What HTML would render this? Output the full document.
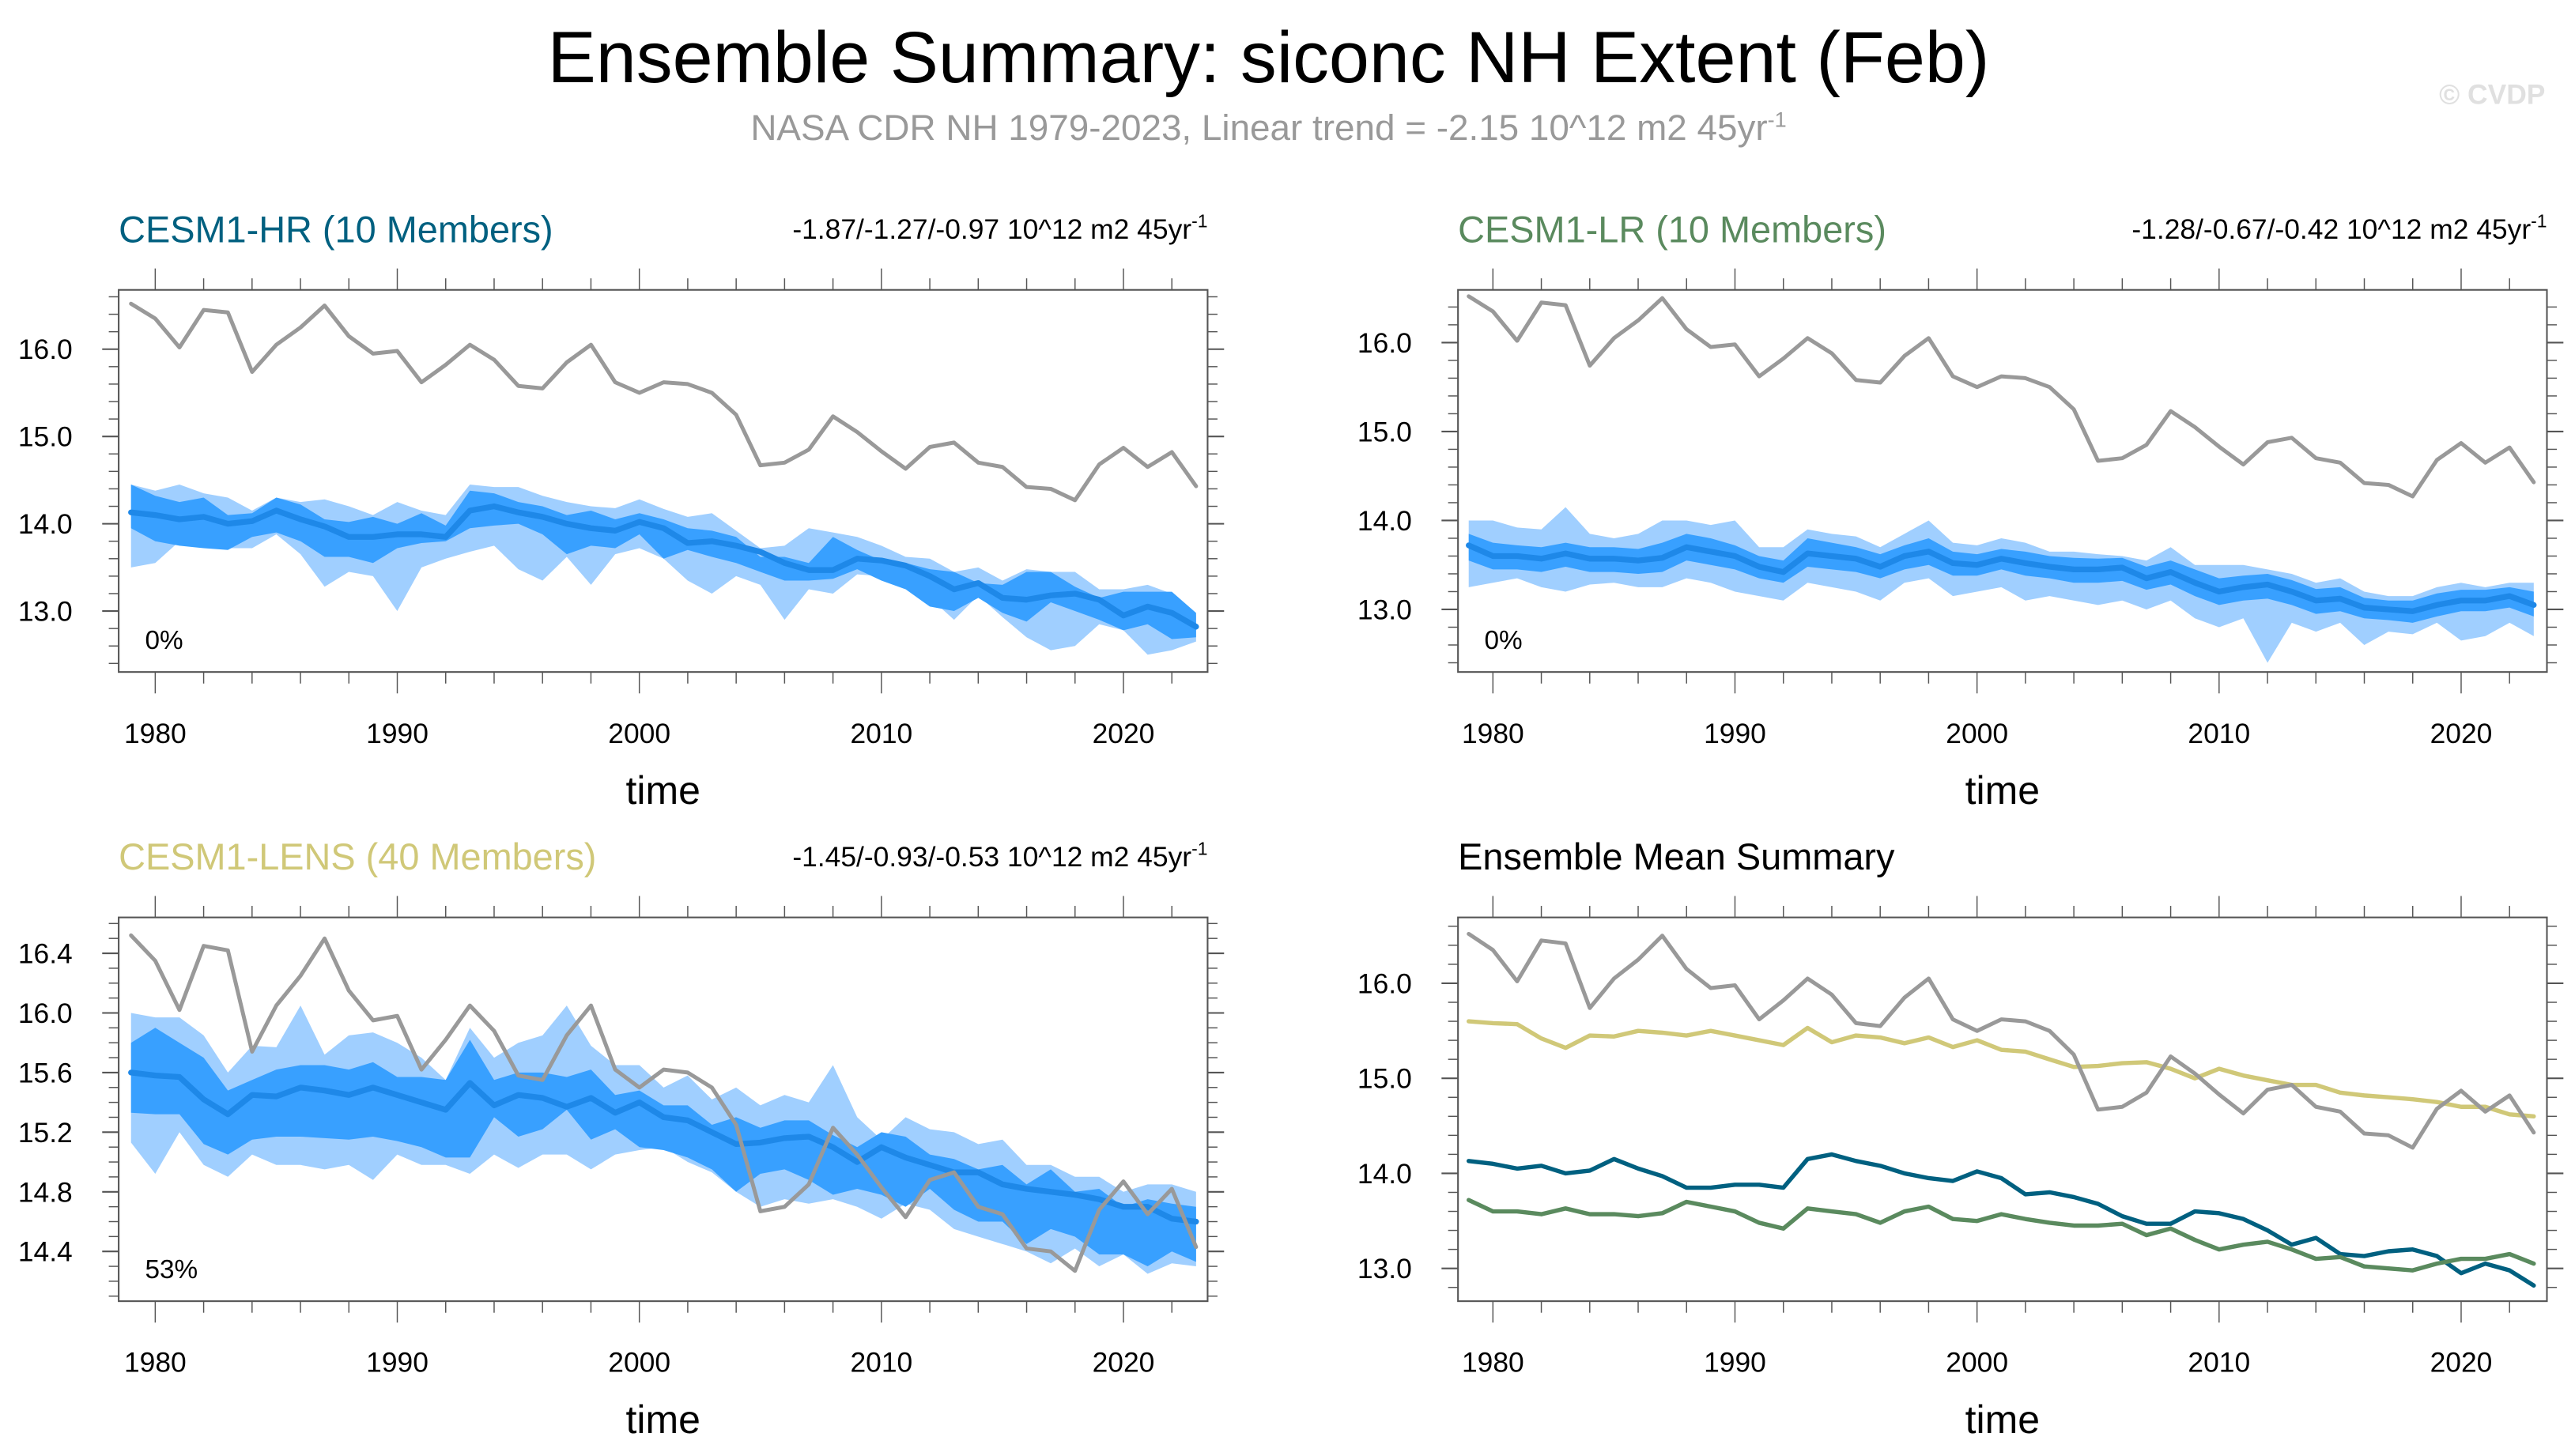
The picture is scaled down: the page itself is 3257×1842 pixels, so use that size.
<!DOCTYPE html>
<html><head><meta charset="utf-8"><style>
html,body{margin:0;padding:0;background:#fff;}
svg{display:block;font-family:"Liberation Sans",sans-serif;}
</style></head><body>
<svg id="fig" width="3257" height="1842" viewBox="0 0 1563 884" xmlns="http://www.w3.org/2000/svg">
<text x="770" y="50" font-size="44" text-anchor="middle" fill="#000">Ensemble Summary: siconc NH Extent (Feb)</text>
<text x="770" y="85" font-size="22" text-anchor="middle" fill="#999">NASA CDR NH 1979-2023, Linear trend = -2.15 10^12 m2 45yr<tspan dy="-8" font-size="13">-1</tspan></text>
<text x="1545" y="63" font-size="17" text-anchor="end" fill="#e0e0e0" font-weight="bold">© CVDP</text>
<g id="plots"></g>
</svg>
<script>
const years = []; for (let y = 1979; y <= 2023; y++) years.push(y);
const obs = [16.52,16.35,16.02,16.45,16.42,15.74,16.05,16.25,16.50,16.15,15.95,15.98,15.62,15.82,16.05,15.88,15.58,15.55,15.85,16.05,15.62,15.50,15.62,15.60,15.50,15.25,14.67,14.70,14.85,15.23,15.05,14.83,14.63,14.88,14.93,14.70,14.65,14.42,14.40,14.27,14.68,14.87,14.65,14.82,14.43];
const hrMean = [14.13,14.10,14.05,14.08,14.00,14.03,14.15,14.05,13.97,13.85,13.85,13.88,13.88,13.85,14.15,14.20,14.13,14.08,14.00,13.95,13.92,14.02,13.95,13.78,13.80,13.75,13.68,13.55,13.47,13.47,13.60,13.58,13.52,13.40,13.25,13.32,13.15,13.13,13.18,13.20,13.13,12.95,13.05,12.98,12.82];
const hrMax = [14.45,14.38,14.45,14.35,14.30,14.15,14.30,14.25,14.28,14.20,14.10,14.25,14.15,14.10,14.45,14.42,14.42,14.32,14.25,14.20,14.18,14.28,14.17,14.08,14.12,13.92,13.72,13.75,13.95,13.90,13.85,13.75,13.62,13.60,13.45,13.50,13.35,13.48,13.45,13.45,13.25,13.25,13.30,13.20,12.95];
const hrHi = [14.45,14.32,14.25,14.30,14.10,14.12,14.30,14.22,14.05,14.02,14.08,14.00,14.12,13.98,14.38,14.35,14.25,14.20,14.10,14.15,14.05,14.12,14.05,13.95,13.92,13.85,13.62,13.62,13.55,13.85,13.70,13.58,13.55,13.48,13.45,13.32,13.30,13.45,13.45,13.28,13.15,13.22,13.22,13.22,12.98];
const hrLo = [13.95,13.80,13.75,13.72,13.70,13.85,13.90,13.80,13.62,13.62,13.55,13.72,13.78,13.80,13.95,13.98,14.00,13.88,13.65,13.75,13.72,13.88,13.60,13.70,13.62,13.55,13.45,13.35,13.35,13.37,13.48,13.35,13.25,13.05,13.00,13.15,12.98,12.88,13.10,13.00,12.90,12.78,12.85,12.68,12.70];
const hrMin = [13.50,13.55,13.80,13.75,13.72,13.72,13.88,13.65,13.28,13.45,13.40,13.00,13.50,13.60,13.68,13.75,13.48,13.35,13.62,13.30,13.65,13.72,13.60,13.35,13.20,13.40,13.30,12.90,13.25,13.20,13.42,13.40,13.37,13.15,12.90,13.18,12.93,12.70,12.55,12.60,12.85,12.78,12.50,12.55,12.65];
const lrMean = [13.72,13.60,13.60,13.57,13.63,13.57,13.57,13.55,13.58,13.70,13.65,13.60,13.48,13.42,13.63,13.60,13.57,13.48,13.60,13.65,13.52,13.50,13.57,13.52,13.48,13.45,13.45,13.47,13.35,13.42,13.30,13.20,13.25,13.28,13.20,13.10,13.12,13.02,13.00,12.98,13.05,13.10,13.10,13.15,13.05];
const lrMax = [14.00,14.00,13.92,13.90,14.15,13.85,13.80,13.85,14.00,14.00,13.95,14.00,13.70,13.70,13.90,13.85,13.82,13.70,13.85,14.00,13.75,13.72,13.80,13.75,13.65,13.65,13.62,13.60,13.55,13.70,13.50,13.50,13.50,13.45,13.40,13.30,13.35,13.20,13.15,13.15,13.25,13.30,13.25,13.30,13.30];
const lrHi = [13.85,13.75,13.72,13.70,13.75,13.70,13.70,13.68,13.75,13.85,13.80,13.72,13.60,13.55,13.80,13.75,13.70,13.62,13.72,13.80,13.65,13.62,13.68,13.65,13.60,13.58,13.57,13.58,13.48,13.55,13.45,13.35,13.38,13.40,13.33,13.23,13.25,13.13,13.10,13.10,13.18,13.22,13.22,13.25,13.20];
const lrLo = [13.55,13.45,13.45,13.42,13.48,13.42,13.42,13.40,13.42,13.55,13.50,13.45,13.35,13.30,13.48,13.45,13.42,13.35,13.45,13.50,13.38,13.38,13.45,13.38,13.35,13.30,13.30,13.32,13.22,13.28,13.15,13.05,13.10,13.12,13.05,12.95,12.98,12.90,12.88,12.85,12.92,12.98,12.98,13.02,12.92];
const lrMin = [13.25,13.30,13.35,13.25,13.20,13.28,13.30,13.25,13.25,13.35,13.30,13.20,13.15,13.10,13.30,13.25,13.20,13.10,13.30,13.35,13.15,13.20,13.25,13.10,13.15,13.10,13.05,13.10,13.00,13.10,12.90,12.80,12.90,12.40,12.85,12.75,12.85,12.60,12.75,12.72,12.85,12.65,12.70,12.85,12.70];
const lensMean = [15.60,15.58,15.57,15.42,15.32,15.45,15.44,15.50,15.48,15.45,15.50,15.45,15.40,15.35,15.53,15.38,15.45,15.43,15.37,15.43,15.33,15.40,15.30,15.28,15.20,15.12,15.13,15.16,15.17,15.10,15.00,15.10,15.03,14.98,14.93,14.93,14.85,14.82,14.80,14.78,14.75,14.70,14.70,14.62,14.60];
const lensMax = [16.00,15.97,15.97,15.85,15.60,15.78,15.77,16.05,15.72,15.85,15.87,15.80,15.70,15.55,15.90,15.70,15.80,15.85,16.05,15.78,15.65,15.65,15.50,15.58,15.42,15.50,15.38,15.45,15.40,15.65,15.30,15.15,15.30,15.22,15.20,15.12,15.15,14.98,14.98,14.90,14.90,14.80,14.85,14.85,14.80];
const lensHi = [15.80,15.90,15.80,15.70,15.48,15.55,15.62,15.65,15.65,15.62,15.67,15.57,15.57,15.55,15.82,15.55,15.60,15.60,15.57,15.62,15.45,15.48,15.38,15.38,15.25,15.30,15.23,15.28,15.28,15.18,15.10,15.20,15.17,15.05,15.02,14.95,14.98,14.85,14.95,14.80,14.82,14.70,14.75,14.72,14.70];
const lensLo = [15.33,15.32,15.32,15.12,15.05,15.15,15.17,15.17,15.16,15.15,15.17,15.14,15.10,15.03,15.03,15.30,15.17,15.22,15.35,15.15,15.22,15.10,15.08,15.03,14.95,14.80,14.92,14.95,14.88,14.78,14.82,14.78,14.70,14.82,14.68,14.60,14.60,14.45,14.55,14.50,14.38,14.38,14.30,14.40,14.33];
const lensMin = [15.13,14.92,15.20,14.98,14.90,15.05,14.98,14.98,14.95,14.98,14.88,15.05,14.98,14.98,14.92,15.05,14.96,15.05,15.05,14.95,15.05,15.08,15.10,15.00,14.93,14.80,14.70,14.75,14.72,14.75,14.70,14.62,14.72,14.68,14.55,14.50,14.45,14.40,14.32,14.42,14.30,14.38,14.25,14.32,14.30];

const NS = 'http://www.w3.org/2000/svg';
const root = document.getElementById('plots');
function mk(tag, attrs, parent) {
  const e = document.createElementNS(NS, tag);
  for (const k in attrs) e.setAttribute(k, attrs[k]);
  (parent || root).appendChild(e);
  return e;
}
function panel(p) {
  const g = mk('g', {});
  
  
  const xs = yr => p.x0 + (yr - 1979) / 44 * (p.x1 - p.x0);
  const ys = v => p.yRef + (p.vRef - v) * p.ppu;
  const fr = mk('rect', {x: p.L, y: p.T, width: p.R - p.L, height: p.B - p.T, fill: 'none', stroke: '#555', 'stroke-width': 1}, g);
  
  
  for (let yr = 1980; yr <= 2022; yr += 2) {
    const x = xs(yr), maj = yr % 10 === 0, len = maj ? 13 : 7;
    mk('line', {x1: x, x2: x, y1: p.B, y2: p.B + len, stroke: '#555', 'stroke-width': 0.7}, g);
    mk('line', {x1: x, x2: x, y1: p.T, y2: p.T - len, stroke: '#555', 'stroke-width': 0.7}, g);
    if (maj) {
      const t = mk('text', {x: x, y: p.B + 43, 'font-size': 17, 'text-anchor': 'middle'}, g);
      t.textContent = yr;
      
      
    }
  }
  for (let i = -40; i <= 40; i++) {
    const v = p.vRef + i * p.minor;
    const y = ys(v);
    if (y < p.T + 2 || y > p.B - 2) continue;
    const maj = Math.abs(Math.round(i * p.minor / p.major * 1000) / 1000 % 1) < 1e-6;
    const len = maj ? 10 : 6;
    mk('line', {x1: p.L, x2: p.L - len, y1: y, y2: y, stroke: '#555', 'stroke-width': maj ? 1 : 0.7}, g);
    mk('line', {x1: p.R, x2: p.R + len, y1: y, y2: y, stroke: '#555', 'stroke-width': maj ? 1 : 0.7}, g);
    if (maj) {
      const t = mk('text', {x: p.L - 28, y: y + 6, 'font-size': 17, 'text-anchor': 'end'}, g);
      t.textContent = v.toFixed(1);
      
      
    }
  }
  const t1 = mk('text', {x: (p.L + p.R) / 2, y: p.B + 80, 'font-size': 24, 'text-anchor': 'middle'}, g);
  t1.textContent = 'time';
  
  
  const t2 = mk('text', {x: p.L, y: p.T - 29, 'font-size': 22.5, fill: p.titleColor}, g);
  t2.textContent = p.title;
  
  
  if (p.trend) {
    const t3 = mk('text', {x: p.R, y: p.T - 31, 'font-size': 17, 'text-anchor': 'end'}, g);
    t3.innerHTML = p.trend + ' 10^12 m2 45yr<tspan dy="-7" font-size="11">-1</tspan>';
    
    
  }
  if (p.pct) {
    const t4 = mk('text', {x: p.L + 16, y: p.B - 14, 'font-size': 16}, g);
    t4.textContent = p.pct;
    
    
  }
  const band = (up, lo, col, nm) => {
    let d = up.map((v, i) => (i ? 'L' : 'M') + xs(years[i]).toFixed(1) + ',' + ys(v).toFixed(1)).join('');
    for (let i = lo.length - 1; i >= 0; i--) d += 'L' + xs(years[i]).toFixed(1) + ',' + ys(lo[i]).toFixed(1);
    const e = mk('path', {d: d + 'Z', fill: col, stroke: 'none'}, g);
    
    
  };
  const line = (arr, col, w, nm) => {
    const d = arr.map((v, i) => (i ? 'L' : 'M') + xs(years[i]).toFixed(1) + ',' + ys(v).toFixed(1)).join('');
    const e = mk('path', {d: d, fill: 'none', stroke: col, 'stroke-width': w, 'stroke-linejoin': 'round', 'stroke-linecap': 'round'}, g);
    
    
  };
  if (p.bands) {
    band(p.bands[0], p.bands[3], '#a0cfff', 'ensemble-range-band');
    band(p.bands[1], p.bands[2], '#38a0ff', 'ensemble-iqr-band');
    line(p.mean, '#1e88e8', 3.5, 'ensemble-mean-line');
  }
  if (p.lines) p.lines.forEach(l => line(l[0], l[1], 2.6, l[2]));
  line(obs, '#999', 2.4, 'observed-line');
}
const base = {x0: 79.5, x1: 726, L: 72, R: 733};
panel(Object.assign({}, base, {name: 'panel-cesm1-hr', T: 176, B: 408, yRef: 212, vRef: 16.0, ppu: 53, major: 1, minor: 0.2,
  title: 'CESM1-HR (10 Members)', titleColor: '#006080', trend: '-1.87/-1.27/-0.97', pct: '0%',
  bands: [hrMax, hrHi, hrLo, hrMin], mean: hrMean}));
panel({name: 'panel-cesm1-lr', x0: 891.5, x1: 1538, L: 885, R: 1546, T: 176, B: 408, yRef: 208, vRef: 16.0, ppu: 54, major: 1, minor: 0.2,
  title: 'CESM1-LR (10 Members)', titleColor: '#5a8a5e', trend: '-1.28/-0.67/-0.42', pct: '0%',
  bands: [lrMax, lrHi, lrLo, lrMin], mean: lrMean});
panel(Object.assign({}, base, {name: 'panel-cesm1-lens', T: 557, B: 790, yRef: 615, vRef: 16.0, ppu: 90.5, major: 0.4, minor: 0.1,
  title: 'CESM1-LENS (40 Members)', titleColor: '#d0c878', trend: '-1.45/-0.93/-0.53', pct: '53%',
  bands: [lensMax, lensHi, lensLo, lensMin], mean: lensMean}));
panel({name: 'panel-ensemble-mean-summary', x0: 891.5, x1: 1538, L: 885, R: 1546, T: 557, B: 790, yRef: 597, vRef: 16.0, ppu: 57.7, major: 1, minor: 0.2,
  title: 'Ensemble Mean Summary', titleColor: '#000',
  lines: [[lensMean, '#d0c878', 'lens-mean-line'], [hrMean, '#006080', 'hr-mean-line'], [lrMean, '#5a8a5e', 'lr-mean-line']]});
</script>
</body></html>
